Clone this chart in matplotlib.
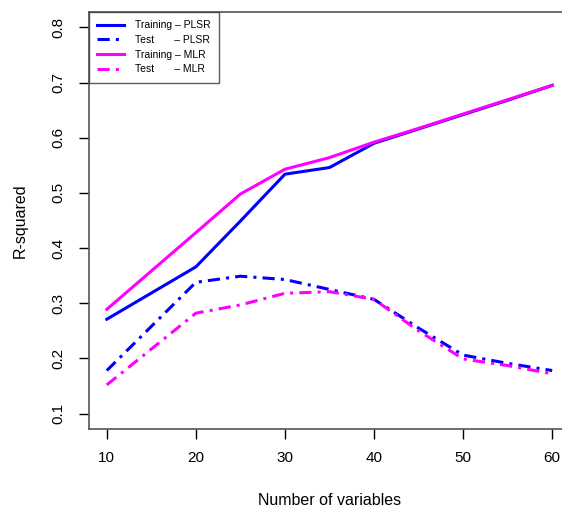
import matplotlib
matplotlib.use("Agg")
import matplotlib.pyplot as plt
import numpy as np

plt.rcParams['font.family'] = ['Liberation Sans', 'DejaVu Sans']

# data
n_vars = [10, 20, 25, 30, 35, 40, 45, 50, 55, 60]
train_plsr = [0.271, 0.366, 0.449, 0.534, 0.546, 0.590, 0.616, 0.642, 0.668, 0.695]
test_plsr = [0.178, 0.338, 0.349, 0.343, 0.325, 0.307, 0.255, 0.206, 0.191, 0.178]
train_mlr = [0.289, 0.428, 0.498, 0.543, 0.564, 0.592, 0.617, 0.643, 0.669, 0.695]
test_mlr = [0.152, 0.282, 0.297, 0.318, 0.321, 0.307, 0.250, 0.199, 0.187, 0.172]

x_ticks = [10, 20, 30, 40, 50, 60]
y_ticks = [0.1, 0.2, 0.3, 0.4, 0.5, 0.6, 0.7, 0.8]
labels = ["Training \u2013 PLSR", "Test       \u2013 PLSR",
          "Training \u2013 MLR", "Test       \u2013 MLR"]

blue = "#0000FF"
magenta = "#FF00FF"

fig = plt.figure(figsize=(5.62, 5.09), dpi=100)
ax = fig.add_axes([89/562, 80/509, 481/562, 417/509])

dd = (0, (4, 2, 1, 2))
ax.plot(n_vars, train_plsr, color=blue, lw=2.2, label=labels[0])
ax.plot(n_vars, test_plsr, color=blue, lw=2.2, ls=dd, label=labels[1])
ax.plot(n_vars, train_mlr, color=magenta, lw=2.2, label=labels[2])
ax.plot(n_vars, test_mlr, color=magenta, lw=2.2, ls=dd, label=labels[3])

ax.set_xlim(8, 62)
ax.set_ylim(0.072, 0.828)
ax.set_xticks(x_ticks)
ax.set_yticks(y_ticks)
ax.set_xticklabels([str(v) for v in x_ticks], fontsize=11)
ax.set_yticklabels([f"{v:.1f}" for v in y_ticks], fontsize=11, rotation=90, va="center")
ax.tick_params(axis="x", length=7, width=1, pad=9)
ax.tick_params(axis="y", length=7, width=1, pad=10)
for s in ax.spines.values():
    s.set_color("#555555")
    s.set_linewidth(1.2)

ax.set_xlabel("Number of variables", fontsize=11.5, labelpad=20)
ax.set_ylabel("R-squared", fontsize=11.5, labelpad=17)

leg = ax.legend(loc="upper left", bbox_to_anchor=(0, 1), borderaxespad=0,
                fontsize=7.5, frameon=True, fancybox=False, handlelength=2.6,
                handletextpad=1.0, labelspacing=0.45, borderpad=0.8)
leg.get_frame().set_edgecolor("#333333")
leg.get_frame().set_linewidth(1.0)

fig.savefig("out.png", dpi=100)
